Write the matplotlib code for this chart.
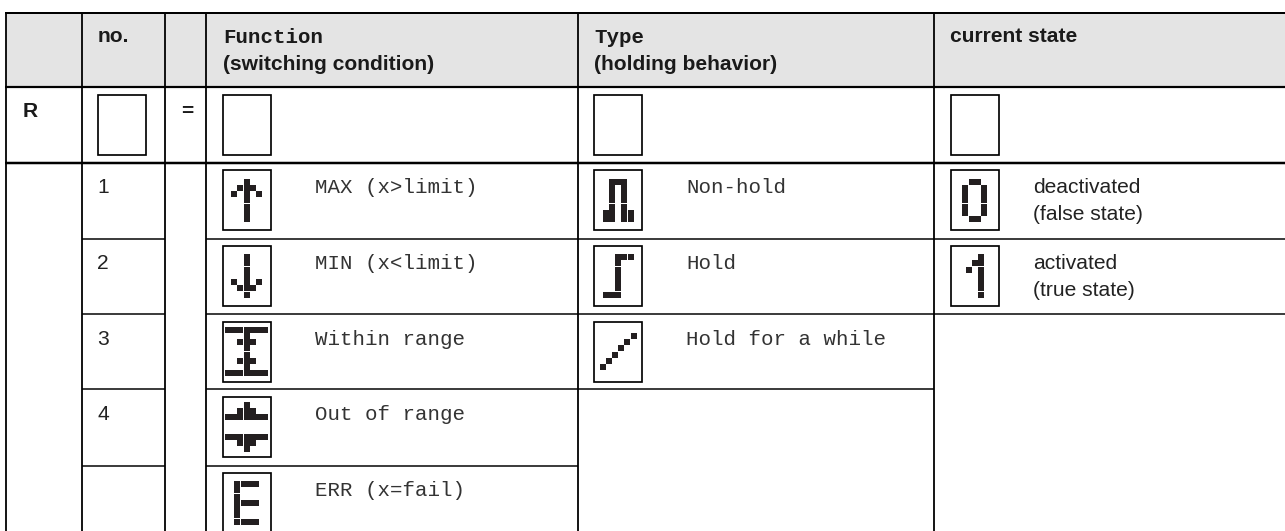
import matplotlib
matplotlib.use("Agg")
import matplotlib.pyplot as plt
from matplotlib.patches import Rectangle

# table text
header_sans = ["no.", "current state"]
header_mono = ["Function", "Type"]
header_sub = ["(switching condition)", "(holding behavior)"]
row_numbers = ["1", "2", "3", "4"]
function_labels = ["MAX (x>limit)", "MIN (x<limit)", "Within range", "Out of range", "ERR (x=fail)"]
type_labels = ["Non-hold", "Hold", "Hold for a while"]
state_line1 = ["deactivated", "activated"]
state_line2 = ["(false state)", "(true state)"]

# lcd glyphs: '#' on, '.' off, ' ' = thin gap column, empty row = thin gap row
arrow_up = ["... #...", "..# ##..", ".#. #.#.", "... #...", "", "... #...", "... #...", "... #..."]
arrow_down = ["... #...", "... #...", "", "... #...", "... #...", ".#. #.#.", "..# ##..", "", "... #..."]
within = ["### ####", "... #...", "..# ##..", "... #...", "", "... #...", "..# ##..", "... #...", "### ####"]
outside = ["... #...", "..# ##..", "### ####", "", "........", "........", "", "### ####", "..# ##..", "... #..."]
err = ["# ###", "# ...", "", "# ...", "# ###", "# ...", "# ...", "", "# ###"]
non_hold = [".### .", ".#.# .", ".#.# .", ".#.# .", "", ".#.# .", "##.# #", "##.# #"]
hold = ["..## #", "..#. .", "", "..#. .", "..#. .", "..#. .", "..#. .", "", "###. ."]
hold_while = ["..... #", "....# .", "...#. .", "", "..#.. .", ".#... .", "#.... ."]
state_off = [". ##.", "# ..#", "# ..#", "# ..#", "", "# ..#", "# ..#", ". ##."]
state_on = ["..#", ".##", "", "#.#", "..#", "..#", "..#", "", "..#"]

W, H = 1285, 531
col_x = [6, 82, 165, 206, 578, 934]
head_top, head_bot, r_bot = 13, 87, 163
row_y = [239, 314, 389, 466]
box_top = [95, 170, 246, 322, 397, 473]
box_left = [223, 594, 951]
ink = "#231f20"
text_col = "#1a1a1a"

fig = plt.figure(figsize=(W / 100, H / 100), dpi=100)
ax = fig.add_axes([0, 0, 1, 1])
ax.set_xlim(0, W)
ax.set_ylim(H, 0)
ax.axis("off")


def px(w):
    return w * 0.72


def hline(y, x0, x1, w=1.5):
    ax.plot([x0, x1], [y, y], color="black", lw=px(w), solid_capstyle="butt")


def draw_box(x, y):
    ax.add_patch(Rectangle((x, y), 48, 60, fc="white", ec="black", lw=px(1.7)))


def draw_glyph(rows, x0, y0):
    # walk the bitmap, thin gaps take 1 px
    y = y0
    for row in rows:
        if row == "":
            y += 1
            continue
        x = x0
        for c in row:
            if c == " ":
                x += 1
                continue
            if c == "#":
                ax.add_patch(Rectangle((x, y), 6, 6, fc=ink, ec="none", lw=0, antialiased=False))
            x += 6
        y += 6


# header band and rules
ax.add_patch(Rectangle((col_x[0], head_top), W - col_x[0], head_bot - head_top, fc="#e4e4e4", ec="none"))
hline(head_top, col_x[0] - 1, W, 2)
hline(head_bot, col_x[0] - 1, W, 2.2)
hline(r_bot, col_x[0] - 1, W, 2.5)
for x in col_x:
    ax.plot([x, x], [head_top, H], color="black", lw=px(1.8), solid_capstyle="butt")
for i, y in enumerate(row_y):
    hline(y, col_x[1], col_x[2])
    hline(y, col_x[3], col_x[4])
    if i < 3:
        hline(y, col_x[4], col_x[5])
    if i < 2:
        hline(y, col_x[5], W)

# text, placed on baselines
sans = dict(family="Liberation Sans", color=text_col, va="baseline", fontsize=px(21))
mono = dict(family="Liberation Mono", color=text_col, va="baseline", fontsize=px(20.8))
body_sans = {**sans, "color": "#222222"}
body_mono = {**mono, "color": "#333333"}
ax.text(98, 42.5, header_sans[0], fontweight="bold", **sans)
ax.text(950, 42.5, header_sans[1], fontweight="bold", **sans)
ax.text(223, 43, header_mono[0], fontweight="bold", **mono)
ax.text(594, 43, header_mono[1], fontweight="bold", **mono)
ax.text(223, 70, header_sub[0], fontweight="bold", **sans)
ax.text(594, 70, header_sub[1], fontweight="bold", **sans)

# R row
ax.text(23, 117, "R", fontweight="bold", **sans)
ax.text(181, 117, "=", fontweight="bold", **sans)
draw_box(98, box_top[0])
for x in box_left:
    draw_box(x, box_top[0])

# numbers
for i, n in enumerate(row_numbers):
    ax.text(97, box_top[i + 1] + 23, n, **body_sans)

# function column
func_glyphs = [arrow_up, arrow_down, within, outside, err]
func_x = [225, 225, 225, 225, 234]
func_y = [179, 254, 327, 402, 481]
for i, lab in enumerate(function_labels):
    draw_box(box_left[0], box_top[i + 1])
    draw_glyph(func_glyphs[i], func_x[i], func_y[i])
    ax.text(315, box_top[i + 1] + 23, lab, **body_mono)

# type column
type_glyphs = [non_hold, hold, hold_while]
type_x = [603, 603, 600]
type_y = [179, 254, 333]
for i, lab in enumerate(type_labels):
    draw_box(box_left[1], box_top[i + 1])
    draw_glyph(type_glyphs[i], type_x[i], type_y[i])
    ax.text(686, box_top[i + 1] + 23, lab, **body_mono)

# state column
state_glyphs = [state_off, state_on]
state_x = [962, 966]
state_y = [179, 254]
for i in range(2):
    draw_box(box_left[2], box_top[i + 1])
    draw_glyph(state_glyphs[i], state_x[i], state_y[i])
    ax.text(1033, box_top[i + 1] + 23, state_line1[i], **body_sans)
    ax.text(1033, box_top[i + 1] + 50, state_line2[i], **body_sans)

fig.savefig("out.png", dpi=100)
